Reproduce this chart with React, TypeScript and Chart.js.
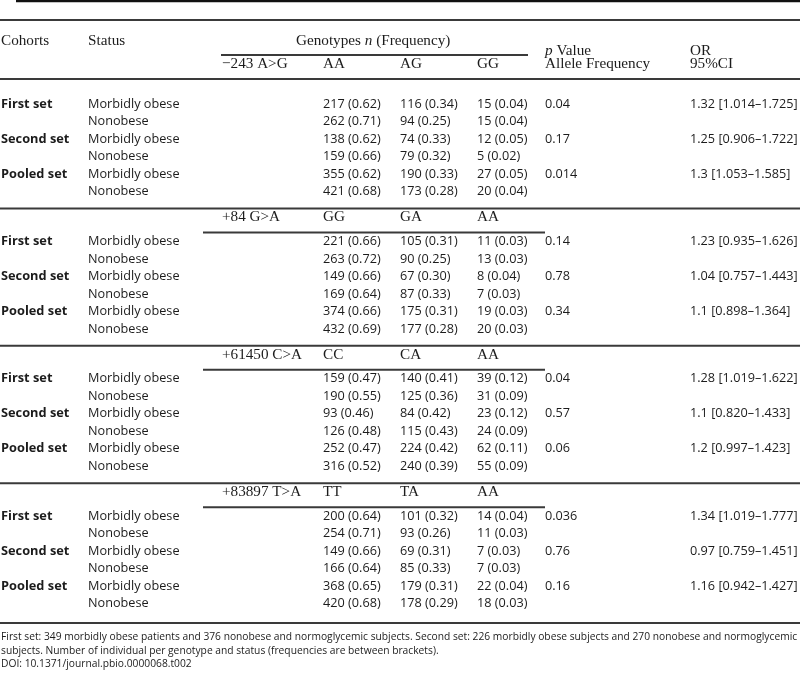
import React, { useEffect, useRef } from "react";
import { Chart, registerables } from "chart.js";

Chart.register(...registerables);

// ---------- DATA ----------
const SNPS = ["−243 A>G", "+84 G>A", "+61450 C>A", "+83897 T>A"];
const GENOTYPES = [
  ["AA", "AG", "GG"],
  ["GG", "GA", "AA"],
  ["CC", "CA", "AA"],
  ["TT", "TA", "AA"],
];
const COHORTS = ["First set", "Second set", "Pooled set"];
const STATUSES = ["Morbidly obese", "Nonobese"];

// counts per SNP, rows: First MO, First NO, Second MO, Second NO, Pooled MO, Pooled NO
const COUNTS = [
  [[217, 116, 15], [262, 94, 15], [138, 74, 12], [159, 79, 5], [355, 190, 27], [421, 173, 20]],
  [[221, 105, 11], [263, 90, 13], [149, 67, 8], [169, 87, 7], [374, 175, 19], [432, 177, 20]],
  [[159, 140, 39], [190, 125, 31], [93, 84, 23], [126, 115, 24], [252, 224, 62], [316, 240, 55]],
  [[200, 101, 14], [254, 93, 11], [149, 69, 7], [166, 85, 7], [368, 179, 22], [420, 178, 18]],
];
const FREQS = [
  [[0.62, 0.34, 0.04], [0.71, 0.25, 0.04], [0.62, 0.33, 0.05], [0.66, 0.32, 0.02], [0.62, 0.33, 0.05], [0.68, 0.28, 0.04]],
  [[0.66, 0.31, 0.03], [0.72, 0.25, 0.03], [0.66, 0.3, 0.04], [0.64, 0.33, 0.03], [0.66, 0.31, 0.03], [0.69, 0.28, 0.03]],
  [[0.47, 0.41, 0.12], [0.55, 0.36, 0.09], [0.46, 0.42, 0.12], [0.48, 0.43, 0.09], [0.47, 0.42, 0.11], [0.52, 0.39, 0.09]],
  [[0.64, 0.32, 0.04], [0.71, 0.26, 0.03], [0.66, 0.31, 0.03], [0.64, 0.33, 0.03], [0.65, 0.31, 0.04], [0.68, 0.29, 0.03]],
];
const P_VALUES = [
  ["0.04", "0.17", "0.014"],
  ["0.14", "0.78", "0.34"],
  ["0.04", "0.57", "0.06"],
  ["0.036", "0.76", "0.16"],
];
const ODDS_RATIOS = [
  ["1.32 [1.014–1.725]", "1.25 [0.906–1.722]", "1.3 [1.053–1.585]"],
  ["1.23 [0.935–1.626]", "1.04 [0.757–1.443]", "1.1 [0.898–1.364]"],
  ["1.28 [1.019–1.622]", "1.1 [0.820–1.433]", "1.2 [0.997–1.423]"],
  ["1.34 [1.019–1.777]", "0.97 [0.759–1.451]", "1.16 [0.942–1.427]"],
];
const FOOTNOTES = [
  "First set: 349 morbidly obese patients and 376 nonobese and normoglycemic subjects. Second set: 226 morbidly obese subjects and 270 nonobese and normoglycemic",
  "subjects. Number of individual per genotype and status (frequencies are between brackets).",
  "DOI: 10.1371/journal.pbio.0000068.t002",
];

// ---------- LAYOUT ----------
const W = 800;
const H = 675;
const LAYOUT = {
  xCohort: 1,
  xStatus: 88,
  xSnp: 222,
  xGeno: [323, 400, 477],
  xP: 545,
  xOR: 690,
  yHead1: 41,
  yHead2: 64,
  row0: 104,
  blockPitch: 137.4,
  rowPitch: 17.5,
  snpOffset: 24,
  sepOffset: 33,
  underOffset: 9,
  footY: [637, 651, 664],
};
const INK = "#1c1c1c";
const RULE = "#3a3a3a";
const SANS = '"Open Sans", sans-serif';
const SERIF = '"Liberation Serif", "Times New Roman", serif';
const F_DATA = `12.7px ${SANS}`;
const F_BOLD = `bold 12.8px ${SANS}`;
const F_HEAD = `15.2px ${SERIF}`;
const F_HEAD_I = `italic 15.2px ${SERIF}`;
const F_FOOT = `10.25px ${SANS}`;

type Part = { t: string; f: string };
type Cell = { x: number; y: number; parts: Part[] };

function buildCells(): Cell[] {
  const cells: Cell[] = [];
  const add = (x: number, y: number, t: string, f: string) => cells.push({ x, y, parts: [{ t, f }] });
  // header
  add(LAYOUT.xCohort, LAYOUT.yHead1, "Cohorts", F_HEAD);
  add(LAYOUT.xStatus, LAYOUT.yHead1, "Status", F_HEAD);
  cells.push({
    x: 296,
    y: LAYOUT.yHead1,
    parts: [
      { t: "Genotypes ", f: F_HEAD },
      { t: "n", f: F_HEAD_I },
      { t: " (Frequency)", f: F_HEAD },
    ],
  });
  cells.push({ x: LAYOUT.xP, y: LAYOUT.yHead1 + 10, parts: [{ t: "p", f: F_HEAD_I }, { t: " Value", f: F_HEAD }] });
  add(LAYOUT.xP, LAYOUT.yHead2, "Allele Frequency", F_HEAD);
  add(LAYOUT.xOR, LAYOUT.yHead1 + 10, "OR", F_HEAD);
  add(LAYOUT.xOR, LAYOUT.yHead2, "95%CI", F_HEAD);

  SNPS.forEach((snp, b) => {
    const first = LAYOUT.row0 + b * LAYOUT.blockPitch;
    const hy = b === 0 ? LAYOUT.yHead2 : first - LAYOUT.snpOffset;
    add(LAYOUT.xSnp, hy, snp, F_HEAD);
    GENOTYPES[b].forEach((g, k) => add(LAYOUT.xGeno[k], hy, g, F_HEAD));
    for (let r = 0; r < 6; r++) {
      const y = first + r * LAYOUT.rowPitch;
      const c = Math.floor(r / 2);
      if (r % 2 === 0) {
        add(LAYOUT.xCohort, y, COHORTS[c], F_BOLD);
        add(LAYOUT.xP, y, P_VALUES[b][c], F_DATA);
        add(LAYOUT.xOR, y, ODDS_RATIOS[b][c], F_DATA);
      }
      add(LAYOUT.xStatus, y, STATUSES[r % 2], F_DATA);
      for (let k = 0; k < 3; k++) {
        add(LAYOUT.xGeno[k], y, `${COUNTS[b][r][k]} (${FREQS[b][r][k].toFixed(2)})`, F_DATA);
      }
    }
  });
  FOOTNOTES.forEach((t, i) => add(1, LAYOUT.footY[i], t, F_FOOT));
  return cells;
}

type Rule = { x0: number; x1: number; y: number; w: number; c: string };
function buildRules(): Rule[] {
  const rules: Rule[] = [];
  rules.push({ x0: 16, x1: W, y: 1, w: 2.5, c: "#111" });
  rules.push({ x0: 0, x1: W, y: 20, w: 2, c: RULE });
  rules.push({ x0: 221, x1: 528, y: 55, w: 2, c: RULE });
  rules.push({ x0: 0, x1: W, y: 79, w: 2, c: RULE });
  for (let b = 1; b < SNPS.length; b++) {
    const first = LAYOUT.row0 + b * LAYOUT.blockPitch;
    rules.push({ x0: 0, x1: W, y: first - LAYOUT.sepOffset, w: 2, c: RULE });
    rules.push({ x0: 203, x1: 545, y: first - LAYOUT.underOffset, w: 2, c: RULE });
  }
  rules.push({ x0: 0, x1: W, y: 623, w: 2, c: RULE });
  return rules;
}

const tableText = {
  id: "tableText",
  afterDatasetsDraw(chart: any) {
    const ctx = chart.ctx;
    ctx.save();
    ctx.fillStyle = INK;
    ctx.textBaseline = "middle";
    ctx.textAlign = "left";
    chart.data.datasets.forEach((ds: any, di: number) => {
      if (!ds.isText) return;
      const meta = chart.getDatasetMeta(di);
      meta.data.forEach((el: any, i: number) => {
        const cell: Cell = ds.data[i];
        let x = el.x;
        cell.parts.forEach((p) => {
          ctx.font = p.f;
          ctx.fillText(p.t, x, el.y);
          x += ctx.measureText(p.t).width;
        });
      });
    });
    ctx.restore();
  },
};

export default function App() {
  const ref = useRef<HTMLCanvasElement | null>(null);
  useEffect(() => {
    document.body.style.margin = "0";
    document.body.style.background = "#fff";
    const cells = buildCells();
    const rules = buildRules();
    const datasets: any[] = rules.map((r) => ({
      data: [{ x: r.x0, y: r.y }, { x: r.x1, y: r.y }],
      showLine: true,
      borderColor: r.c,
      borderWidth: r.w,
      pointRadius: 0,
      clip: false,
    }));
    datasets.push({ isText: true, data: cells, pointRadius: 0, showLine: false, clip: false });
    const chart = new Chart(ref.current!, {
      type: "scatter",
      data: { datasets },
      options: {
        animation: false,
        responsive: false,
        maintainAspectRatio: false,
        events: [],
        layout: { padding: 0 },
        scales: {
          x: { type: "linear", min: 0, max: W, display: false },
          y: { type: "linear", min: 0, max: H, reverse: true, display: false },
        },
        plugins: { legend: { display: false }, tooltip: { enabled: false } },
      },
      plugins: [tableText],
    });
    return () => chart.destroy();
  }, []);
  return (
    <div style={{ position: "absolute", left: 0, top: 0, width: W, height: H, background: "#fff" }}>
      <canvas ref={ref} width={W} height={H} style={{ display: "block" }} />
    </div>
  );
}
